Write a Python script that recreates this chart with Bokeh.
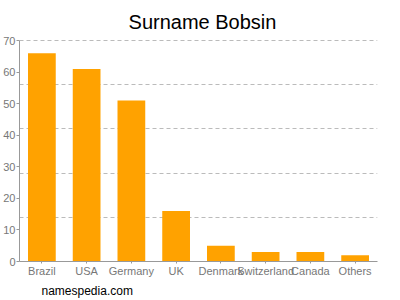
from bokeh.plotting import figure
from bokeh.models import FixedTicker, Range1d, FactorRange, Title, Label, ColumnDataSource
from bokeh.embed import file_html
from bokeh.resources import INLINE

categories = ["Brazil", "USA", "Germany", "UK", "Denmark", "Switzerland", "Canada", "Others"]
counts = [66, 61, 51, 16, 5, 3, 3, 2]
y_ticks = [0, 10, 20, 30, 40, 50, 60, 70]
grid_lines = [14, 28, 42, 56, 70]
title_text = "Surname Bobsin"
footer_text = "namespedia.com"

src = ColumnDataSource(dict(cat=categories, val=counts))

# frame spans the full height above the x axis; value axis limited to 0..70
y_top = 70 * 261 / 221
p = figure(width=400, height=300, x_range=FactorRange(*categories, range_padding=0),
           y_range=Range1d(0, y_top), output_backend="svg", toolbar_location=None,
           min_border_left=17, min_border_right=23, min_border_top=0, min_border_bottom=39)
p.outline_line_color = None
p.background_fill_color = "white"
p.border_fill_color = "white"

p.vbar(x="cat", top="val", width=0.62, source=src, fill_color="#FFA200", line_color=None)

p.xgrid.grid_line_color = None
p.ygrid.ticker = FixedTicker(ticks=grid_lines)
p.ygrid.grid_line_color = "#BBBBBB"
p.ygrid.grid_line_dash = "4 3"
p.ygrid.grid_line_width = 1

p.yaxis.ticker = FixedTicker(ticks=y_ticks)
p.yaxis.bounds = (0, 70)
for ax in (p.xaxis, p.yaxis):
    ax.axis_line_color = "#999999"
    ax.major_tick_line_color = "#999999"
    ax.minor_tick_line_color = None
    ax.major_label_text_color = "#777777"
    ax.major_label_text_font = "Liberation Sans"
    ax.major_label_text_font_size = "11px"
    ax.major_tick_in = 0
    ax.major_tick_out = 3
p.xaxis.major_tick_out = 2
p.yaxis.major_label_standoff = 1
p.xaxis.major_label_standoff = 1

p.add_layout(Label(x=183, y=240, x_units="screen", y_units="screen", text=title_text,
                   text_font="Liberation Sans", text_font_size="20px", text_color="black",
                   text_align="center", text_baseline="alphabetic"))

p.add_layout(Title(text=footer_text, align="left", offset=22, text_font="Liberation Sans",
                   text_font_size="12px", text_font_style="normal", text_color="black",
                   standoff=4), "below")

open("out.html", "w").write(file_html(p, INLINE))
